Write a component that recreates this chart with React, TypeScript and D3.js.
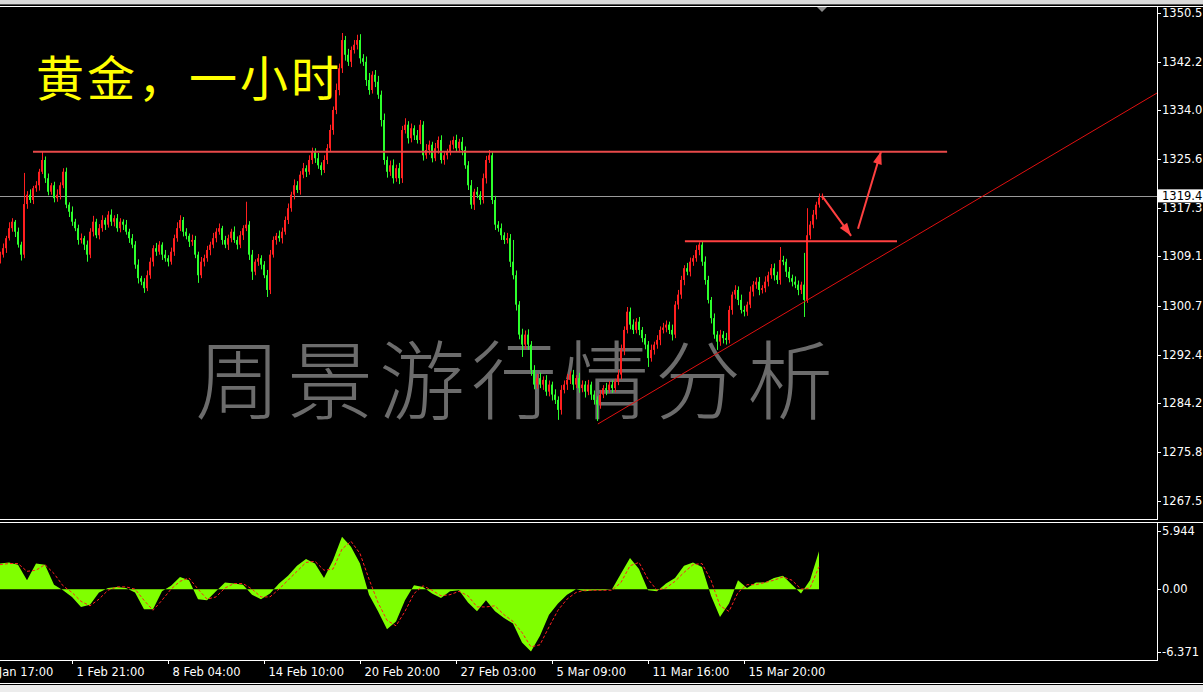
import React from 'react';
import * as d3 from 'd3';

const WIDTH = 1203;
const HEIGHT = 692;

// Hourly gold closes, oldest first
const closes = [
  1309.4, 1310.5, 1312.2, 1313.9, 1315.0, 1313.3, 1311.1, 1309.4, 1318.0, 1319.6,
  1318.7, 1320.7, 1321.2, 1323.5, 1325.5, 1322.4, 1320.1, 1321.2, 1319.0, 1319.6,
  1321.2, 1323.5, 1317.9, 1316.7, 1315.0, 1313.9, 1311.9, 1312.2, 1311.1, 1309.4,
  1313.3, 1315.0, 1312.7, 1313.9, 1315.3, 1314.5, 1316.2, 1315.0, 1315.6, 1313.9,
  1315.0, 1314.5, 1313.3, 1312.2, 1311.1, 1307.7, 1305.4, 1304.8, 1303.7, 1305.9,
  1308.2, 1310.5, 1309.9, 1311.1, 1309.4, 1308.8, 1308.2, 1309.9, 1312.2, 1313.9,
  1315.3, 1313.3, 1312.6, 1311.6, 1311.9, 1309.4, 1305.9, 1308.2, 1308.8, 1310.2,
  1311.1, 1312.2, 1313.3, 1313.9, 1311.9, 1311.1, 1312.2, 1313.3, 1311.9, 1311.1,
  1312.7, 1313.9, 1314.5, 1309.4, 1306.5, 1308.2, 1308.8, 1307.7, 1305.9, 1303.4,
  1309.4, 1311.9, 1312.6, 1312.2, 1313.3, 1315.3, 1317.3, 1319.6, 1321.2, 1320.4,
  1323.0, 1324.1, 1323.5, 1325.5, 1326.9, 1325.8, 1324.6, 1323.8, 1325.5, 1327.5,
  1330.6, 1334.0, 1337.4, 1341.1, 1345.9, 1343.4, 1342.2, 1344.2, 1345.1, 1345.9,
  1342.8, 1342.2, 1339.1, 1337.4, 1340.0, 1338.8, 1336.6, 1332.3, 1325.5, 1323.5,
  1324.6, 1322.4, 1324.1, 1322.4, 1330.6, 1331.5, 1329.2, 1330.9, 1329.7, 1328.9,
  1331.5, 1326.3, 1327.2, 1328.1, 1325.8, 1327.5, 1328.9, 1325.5, 1326.3, 1326.9,
  1328.1, 1328.9, 1327.5, 1328.6, 1327.2, 1324.6, 1321.2, 1317.9, 1320.1, 1319.6,
  1318.7, 1322.4, 1325.5, 1326.3, 1318.7, 1314.5, 1313.9, 1312.7, 1311.9, 1312.2,
  1308.2, 1305.9, 1300.9, 1295.8, 1294.1, 1295.8, 1294.1, 1289.8, 1287.3, 1288.4,
  1287.3, 1288.1, 1286.1, 1287.3, 1285.6, 1284.7, 1283.0, 1286.4, 1287.3, 1288.1,
  1289.0, 1287.3, 1288.4, 1286.7, 1287.3, 1286.1, 1287.3, 1285.6, 1284.7, 1283.9,
  1285.6, 1286.7, 1286.4, 1287.3, 1286.7, 1287.8, 1289.0, 1293.2, 1296.6, 1299.7,
  1297.5, 1296.6, 1298.0, 1296.6, 1295.2, 1294.1, 1291.8, 1293.2, 1294.1, 1294.9,
  1296.6, 1297.0, 1297.5, 1296.6, 1295.8, 1300.9, 1302.6, 1305.1, 1307.1, 1306.5,
  1308.2, 1308.8, 1310.2, 1311.1, 1308.2, 1305.1, 1301.7, 1298.6, 1295.8, 1294.6,
  1295.8, 1295.2, 1294.9, 1300.0, 1302.6, 1303.4, 1301.7, 1300.0, 1299.7, 1300.9,
  1303.1, 1304.3, 1304.8, 1303.4, 1303.7, 1304.8, 1305.9, 1307.1, 1305.9, 1305.1,
  1308.5, 1308.2, 1306.5, 1305.4, 1304.8, 1304.3, 1303.4, 1304.3, 1301.7, 1312.7,
  1314.5, 1316.2, 1317.9, 1319.1, 1319.4,
];
const firstOpen = 1308.6;

// Upper and lower shadows beyond each candle body
const wickUp = [
  0.5, 0.8, 0.4, 1.0, 0.6, 0.3, 0.7, 0.5, 5.3, 0.6,
  0.9, 0.4, 0.7, 0.5, 1.4, 0.6, 0.8, 0.4, 0.6, 0.9,
  0.5, 0.6, 0.7, 0.4, 0.9, 0.5, 0.6, 0.8, 0.4, 0.7,
  0.6, 1.0, 0.5, 0.7, 0.8, 0.4, 0.6, 0.9, 0.5, 0.7,
  0.6, 0.4, 0.8, 0.5, 0.7, 0.6, 0.9, 0.4, 0.6, 0.8,
  0.7, 0.5, 0.9, 0.6, 0.4, 0.8, 0.5, 0.7, 0.6, 1.0,
  0.8, 0.5, 0.6, 0.4, 0.9, 0.7, 0.5, 0.8, 0.6, 0.7,
  0.5, 0.9, 0.6, 0.8, 0.4, 0.7, 0.6, 0.5, 0.9, 0.6,
  0.7, 0.5, 3.9, 0.6, 0.8, 0.4, 0.7, 0.5, 0.6, 0.9,
  0.8, 0.6, 0.5, 0.9, 0.7, 0.6, 0.8, 0.5, 1.0, 0.7,
  0.6, 0.9, 0.5, 0.8, 0.7, 0.6, 0.9, 0.5, 0.8, 0.7,
  0.9, 0.6, 1.1, 0.8, 1.2, 0.7, 1.0, 0.6, 0.8, 0.9,
  1.0, 0.7, 0.9, 1.2, 0.6, 0.8, 1.0, 0.7, 1.1, 0.6,
  0.8, 1.0, 0.6, 0.9, 0.7, 1.1, 0.6, 0.8, 0.5, 0.9,
  0.8, 0.6, 1.0, 0.7, 0.5, 0.9, 0.6, 0.8, 0.7, 0.5,
  0.7, 0.6, 0.9, 0.5, 0.8, 0.6, 0.7, 0.9, 0.5, 0.8,
  0.6, 0.8, 0.7, 0.9, 0.5, 0.7, 0.6, 0.8, 0.5, 0.9,
  0.7, 3.7, 0.8, 0.6, 1.0, 0.7, 0.9, 0.6, 0.8, 0.7,
  0.9, 0.6, 0.8, 0.7, 0.5, 0.9, 0.6, 0.8, 0.7, 1.0,
  0.6, 0.8, 0.5, 0.9, 0.7, 0.6, 0.8, 0.5, 0.7, 0.6,
  0.8, 0.5, 0.9, 0.6, 0.7, 0.5, 0.8, 0.9, 0.6, 0.8,
  0.7, 0.9, 0.6, 0.8, 0.5, 0.7, 0.6, 0.9, 0.5, 0.8,
  0.6, 0.8, 0.7, 0.5, 0.9, 0.6, 0.8, 0.7, 0.5, 0.9,
  0.7, 0.5, 0.8, 0.4, 0.6, 0.9, 0.7, 0.5, 0.8, 0.6,
  0.8, 0.6, 0.9, 0.7, 0.5, 0.8, 0.6, 0.9, 0.7, 0.5,
  0.9, 0.6, 0.7, 0.8, 0.5, 0.9, 0.6, 0.7, 0.8, 0.6,
  2.2, 0.7, 0.5, 0.8, 0.6, 0.9, 0.7, 0.5, 5.4, 4.6,
  0.6, 0.8, 0.5, 0.7, 0.4,
];
const wickDn = [
  0.7, 0.5, 0.8, 0.4, 0.6, 0.9, 0.5, 1.0, 0.6, 0.8,
  0.5, 0.7, 0.6, 0.9, 0.4, 0.8, 0.6, 0.5, 0.7, 0.6,
  0.8, 0.5, 0.6, 0.9, 0.7, 0.5, 0.8, 0.6, 0.9, 1.2,
  0.6, 0.8, 0.5, 0.7, 0.6, 0.9, 0.5, 0.7, 0.8, 0.6,
  0.7, 0.9, 0.5, 0.8, 0.6, 0.7, 0.9, 0.6, 0.8, 0.5,
  0.6, 0.8, 0.7, 0.5, 0.9, 0.6, 0.8, 0.5, 0.7, 0.6,
  0.5, 0.8, 0.6, 0.9, 0.7, 0.6, 1.3, 0.5, 0.8, 0.6,
  0.9, 0.6, 0.7, 0.5, 0.8, 0.6, 0.9, 0.7, 0.5, 0.8,
  0.6, 0.8, 0.5, 0.9, 1.4, 0.6, 0.7, 0.8, 0.5, 1.2,
  0.7, 0.5, 0.8, 0.6, 0.9, 0.5, 0.7, 0.6, 0.8, 0.5,
  0.8, 0.6, 0.9, 0.5, 0.7, 0.8, 0.6, 0.9, 0.5, 0.7,
  0.6, 0.8, 0.7, 0.9, 0.8, 1.0, 0.7, 0.9, 0.6, 0.8,
  0.9, 0.7, 1.0, 0.8, 0.6, 0.9, 0.7, 1.1, 0.8, 1.0,
  0.7, 0.9, 0.6, 1.0, 0.8, 0.6, 0.9, 0.7, 0.8, 0.6,
  0.7, 0.9, 0.6, 0.8, 0.7, 0.5, 0.9, 0.6, 0.8, 0.7,
  0.6, 0.8, 0.5, 0.7, 0.9, 0.6, 0.8, 0.7, 0.9, 0.6,
  0.8, 0.6, 0.9, 0.5, 0.7, 0.9, 0.6, 0.8, 0.7, 0.6,
  0.9, 0.7, 1.0, 0.8, 2.1, 0.7, 0.9, 1.0, 0.8, 0.7,
  0.6, 0.9, 0.7, 0.8, 1.0, 0.7, 1.7, 0.8, 0.6, 0.9,
  0.7, 0.9, 0.6, 0.8, 0.7, 1.0, 0.6, 0.9, 0.8, 2.8,
  0.7, 0.6, 0.9, 0.5, 0.8, 0.7, 0.6, 0.8, 0.9, 0.6,
  0.8, 0.7, 0.6, 0.9, 0.7, 0.8, 1.5, 0.6, 0.8, 0.7,
  0.9, 0.6, 0.8, 0.7, 1.0, 0.6, 0.8, 0.7, 0.9, 0.6,
  0.8, 0.7, 0.6, 0.9, 0.7, 0.8, 0.6, 0.9, 0.7, 1.4,
  0.7, 0.9, 0.8, 0.6, 0.8, 0.7, 0.9, 0.6, 0.8, 0.7,
  0.6, 0.8, 0.7, 0.9, 0.6, 0.7, 0.8, 0.6, 0.9, 0.7,
  0.8, 0.6, 0.9, 0.7, 0.8, 0.6, 0.9, 0.7, 2.9, 0.5,
  0.7, 0.6, 0.8, 0.5, 0.4,
];

const priceTicks = [1350.5, 1342.2, 1334.0, 1325.6, 1317.3, 1309.1, 1300.7, 1292.4, 1284.2, 1275.8, 1267.5];
const lastPrice = 1319.4;

const timeTickBars = [-8, 24, 56, 88, 120, 152, 184, 216, 248];
const timeTickLabels = [
  '28 Jan 17:00', '1 Feb 21:00', '8 Feb 04:00', '14 Feb 10:00', '20 Feb 20:00',
  '27 Feb 03:00', '5 Mar 09:00', '11 Mar 16:00', '15 Mar 20:00',
];

// Oscillator, one sample every three bars
const oscEvery = 3;
const oscMain = [
  2.3, 2.4, 2.2, 0.8, 2.3, 2.2, 0.4, -0.1, -0.7, -1.6,
  -1.4, -0.3, 0.1, 0.2, 0.1, -0.3, -1.8, -1.8, -0.2, 0.3,
  1.1, 0.8, -0.9, -1.0, -0.2, 0.6, 0.5, 0.4, -0.5, -0.9,
  -0.4, 0.5, 1.2, 2.1, 2.7, 2.3, 1.0, 2.6, 4.7, 3.8,
  2.3, -0.5, -2.0, -3.6, -2.9, -1.0, 0.35, 0.2, -0.4, -0.8,
  -0.2, -0.1, -1.2, -2.0, -1.0, -2.0, -2.6, -3.1, -4.8, -5.6,
  -4.2, -2.3, -1.3, -0.5, 0.0, -0.2, -0.1, -0.1, 0.0, 1.4,
  2.8, 1.8, -0.1, -0.2, 0.5, 1.0, 2.1, 2.4, 2.0, -0.6,
  -2.5, -1.3, 0.8, 0.1, 0.6, 0.6, 1.0, 1.2, 0.4, -0.4,
  0.8, 3.4,
];
const oscSignal = [
  2.2, 2.3, 2.3, 1.6, 1.7, 2.2, 1.4, 0.3, -0.3, -1.1,
  -1.5, -0.9, -0.1, 0.2, 0.2, 0.0, -1.0, -1.9, -1.0, 0.0,
  0.7, 1.0, 0.0, -0.9, -0.7, 0.1, 0.5, 0.5, 0.0, -0.7,
  -0.7, 0.0, 0.8, 1.6, 2.4, 2.5, 1.7, 1.8, 3.6, 4.3,
  3.2, 0.9, -1.2, -2.8, -3.3, -2.0, -0.4, 0.3, -0.1, -0.6,
  -0.5, -0.2, -0.6, -1.6, -1.6, -1.5, -2.3, -2.9, -3.9, -5.2,
  -5.0, -3.4, -1.9, -0.9, -0.3, -0.1, -0.1, -0.1, -0.1, 0.6,
  2.1, 2.4, 0.9, -0.1, 0.1, 0.7, 1.5, 2.2, 2.3, 0.8,
  -1.5, -2.0, -0.3, 0.4, 0.4, 0.6, 0.8, 1.1, 0.8, 0.0,
  0.1, 2.0,
];
const oscTicks = [5.944, 0, -6.371];
const oscTickLabels = ['5.944', '0.00', '-6.371'];

// Drawn analysis objects, in bar index / price
const resistanceLevel = 1326.9;
const resistanceBars = [11, 315.7];
const supportLevel = 1311.7;
const supportBars = [228.3, 299];
const trendLine = [[199.3, 1280.6], [385.7, 1336.9]];
const arrowPaths = [
  [[274, 1319.4], [283.7, 1312.6]],
  [[286, 1313.8], [293.7, 1327.0]],
];

const titleText = '黄金，一小时';
const watermarkText = '周景游行情分析';

const UP = '#ff2020';
const DOWN = '#2cff2c';
const AXIS_FONT = "'DejaVu Sans', Verdana, sans-serif";
const CJK_FONT = "'Noto Sans CJK SC', 'Noto Sans CJK JP', sans-serif";

function arrowHead(x1: number, y1: number, x2: number, y2: number, len = 13, half = 4.5) {
  const a = Math.atan2(y2 - y1, x2 - x1);
  const bx = x2 - len * Math.cos(a);
  const by = y2 - len * Math.sin(a);
  const px = -Math.sin(a) * half;
  const py = Math.cos(a) * half;
  return `${x2},${y2} ${bx + px},${by + py} ${bx - px},${by - py}`;
}

export default function App() {
  const plotRight = 1157;
  const plotTop = 7;
  const plotBottom = 519;
  const oscTop = 523;
  const oscBottom = 660;

  const x = d3.scaleLinear().domain([0, 274]).range([0, 822]);
  const y = d3.scaleLinear().domain([1267.5, 1350.5]).range([501, 13]);
  const m = d3.scaleLinear().domain([-6.371, 5.944]).range([oscBottom, oscTop]);

  const bars = closes.map((c, i) => {
    const o = i === 0 ? firstOpen : closes[i - 1];
    return { i, o, c, hi: Math.max(o, c) + wickUp[i], lo: Math.min(o, c) - wickDn[i] };
  });

  const histArea = d3
    .area<number>()
    .x((_, k) => x(k * oscEvery))
    .y0(m(0))
    .y1((d) => m(d));
  const sigLine = d3
    .line<number>()
    .x((_, k) => x(k * oscEvery))
    .y((d) => m(d));

  const lastY = y(lastPrice);

  return (
    <svg
      width={WIDTH}
      height={HEIGHT}
      style={{ position: 'fixed', left: 0, top: 0, display: 'block' }}
    >
      <defs>
        <clipPath id="plotClip">
          <rect x={0} y={plotTop} width={plotRight} height={plotBottom - plotTop} />
        </clipPath>
        <clipPath id="oscClip">
          <rect x={0} y={oscTop} width={plotRight} height={oscBottom - oscTop} />
        </clipPath>
      </defs>

      <rect x={0} y={0} width={WIDTH} height={HEIGHT} fill="#000" />

      {/* window frame */}
      <rect x={0} y={0} width={WIDTH} height={4} fill="#d9d9d9" />
      <rect x={0} y={4} width={WIDTH} height={1} fill="#555" />
      <line x1={0} x2={WIDTH} y1={6.5} y2={6.5} stroke="#fff" />
      <line x1={0} x2={plotRight} y1={plotBottom + 0.5} y2={plotBottom + 0.5} stroke="#fff" />
      <line x1={0} x2={WIDTH} y1={oscTop - 0.5} y2={oscTop - 0.5} stroke="#fff" />
      <line x1={0} x2={plotRight + 0.5} y1={oscBottom + 0.5} y2={oscBottom + 0.5} stroke="#fff" />
      <line x1={plotRight + 0.5} x2={plotRight + 0.5} y1={plotTop} y2={plotBottom + 1} stroke="#fff" />
      <line x1={plotRight + 0.5} x2={plotRight + 0.5} y1={oscTop - 1} y2={oscBottom + 1} stroke="#fff" />
      <line x1={0} x2={WIDTH} y1={683.5} y2={683.5} stroke="#fff" />
      <rect x={0} y={685} width={WIDTH} height={7} fill="#ececec" />

      {/* watermark */}
      <text
        x={195}
        y={413}
        fontFamily={CJK_FONT}
        fontSize={86}
        fontWeight={300}
        letterSpacing={6}
        fill="#6c6c6c"
      >
        {watermarkText}
      </text>

      <g clipPath="url(#plotClip)">
        {/* current price line */}
        <line x1={0} x2={plotRight} y1={Math.round(lastY) + 0.5} y2={Math.round(lastY) + 0.5} stroke="#9a9a9a" />

        {bars.map((b) => {
          const col = b.c >= b.o ? UP : DOWN;
          const top = y(Math.max(b.o, b.c));
          const bot = y(Math.min(b.o, b.c));
          const cx = Math.round(x(b.i));
          return (
            <g key={b.i}>
              <rect x={cx} y={y(b.hi)} width={1} height={y(b.lo) - y(b.hi)} fill={col} />
              <rect x={cx - 1} y={top} width={2} height={Math.max(1, bot - top)} fill={col} />
            </g>
          );
        })}

        {/* trend line */}
        <line
          x1={x(trendLine[0][0])}
          y1={y(trendLine[0][1])}
          x2={x(trendLine[1][0])}
          y2={y(trendLine[1][1])}
          stroke="#e01010"
          strokeWidth={1}
        />
        {/* horizontal levels */}
        <line
          x1={x(resistanceBars[0])}
          x2={x(resistanceBars[1])}
          y1={y(resistanceLevel)}
          y2={y(resistanceLevel)}
          stroke="#e84a4a"
          strokeWidth={2}
        />
        <line
          x1={x(supportBars[0])}
          x2={x(supportBars[1])}
          y1={y(supportLevel)}
          y2={y(supportLevel)}
          stroke="#ff4040"
          strokeWidth={2}
        />
        {/* expected path arrows */}
        {arrowPaths.map((p, k) => {
          const x1 = x(p[0][0]);
          const y1 = y(p[0][1]);
          const x2 = x(p[1][0]);
          const y2 = y(p[1][1]);
          return (
            <g key={k}>
              <line x1={x1} y1={y1} x2={x2} y2={y2} stroke="#ff4040" strokeWidth={2} />
              <polygon points={arrowHead(x1, y1, x2, y2)} fill="#ff4040" />
            </g>
          );
        })}
      </g>

      {/* chart shift marker */}
      <polygon points={`${x(274) - 5},7 ${x(274) + 5},7 ${x(274)},12`} fill="#8a8a8a" />

      {/* title */}
      <text x={36} y={96} fontFamily={CJK_FONT} fontSize={48} fontWeight={400} letterSpacing={3} fill="#ffff00">
        {titleText}
      </text>

      {/* price axis */}
      {priceTicks.map((p) => (
        <g key={p}>
          <line x1={plotRight} x2={plotRight + 4} y1={Math.round(y(p)) + 0.5} y2={Math.round(y(p)) + 0.5} stroke="#fff" />
          <text x={1162} y={y(p)} dy="0.35em" fontFamily={AXIS_FONT} fontSize={11.5} fill="#fff">
            {p.toFixed(1)}
          </text>
        </g>
      ))}
      <rect x={plotRight + 1} y={lastY - 6.5} width={WIDTH - plotRight - 1} height={13} fill="#fff" />
      <text x={1162} y={lastY} dy="0.35em" fontFamily={AXIS_FONT} fontSize={11.5} fill="#000">
        {lastPrice.toFixed(1)}
      </text>

      {/* oscillator */}
      <g clipPath="url(#oscClip)">
        <path d={histArea(oscMain) || ''} fill="#80ff00" />
        <path d={sigLine(oscSignal) || ''} fill="none" stroke="#ff2020" strokeWidth={1} strokeDasharray="3,2" />
      </g>
      {oscTicks.map((v, k) => {
        const ty = k === 0 ? m(v) + 8 : k === 2 ? m(v) - 8 : m(v);
        return (
          <g key={v}>
            <line x1={plotRight} x2={plotRight + 4} y1={Math.round(ty) + 0.5} y2={Math.round(ty) + 0.5} stroke="#fff" />
            <text x={1162} y={ty} dy="0.35em" fontFamily={AXIS_FONT} fontSize={11.5} fill="#fff">
              {oscTickLabels[k]}
            </text>
          </g>
        );
      })}

      {/* time axis */}
      {timeTickBars.map((b, k) => {
        const tx = Math.round(x(b)) + 0.5;
        return (
          <g key={b}>
            <line x1={tx} x2={tx} y1={oscBottom} y2={oscBottom + 4} stroke="#fff" />
            <text x={tx + 4} y={676} fontFamily={AXIS_FONT} fontSize={11.5} fill="#fff">
              {timeTickLabels[k]}
            </text>
          </g>
        );
      })}
    </svg>
  );
}
